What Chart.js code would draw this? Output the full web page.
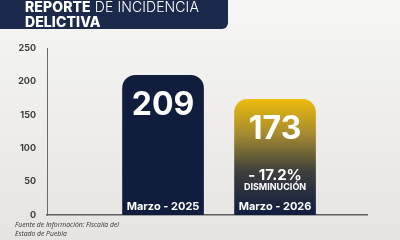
<!DOCTYPE html>
<html>
<head>
<meta charset="utf-8">
<script src="https://cdn.jsdelivr.net/npm/chart.js@4"></script>
<style>
  html, body { margin: 0; padding: 0; }
  body { width: 400px; height: 240px; overflow: hidden; position: relative;
         background: linear-gradient(180deg, #f6f6f5 0%, #eeedeb 50%, #e6e4e0 100%); font-family: Inter, sans-serif; }
  #chart { position: absolute; left: 0; top: 0; }
  .header { position: absolute; left: 0; top: 0; width: 228px; height: 29px; background: #1b2a4b;
            border-bottom-right-radius: 6px; color: #fff; font-size: 14px; line-height: 15px; }
  .header .txt { position: absolute; left: 25px; top: -1px; white-space: nowrap; letter-spacing: 0.1px; }
  .header b { font-weight: 800; }
  .header span { font-weight: 300; }
  .source { position: absolute; left: 15px; top: 221px; font-family: "Open Sans", sans-serif; font-style: italic;
            font-size: 6.8px; line-height: 8.5px; color: #333; }
</style>
</head>
<body>
<canvas id="chart" width="400" height="240"></canvas>
<div class="header"><div class="txt"><b>REPORTE</b><span> DE INCIDENCIA</span><br><b>DELICTIVA</b></div></div>
<div class="source">Fuente de Información: Fiscalía del<br>Estado de Puebla</div>
<script>
const categories = ['Marzo - 2025', 'Marzo - 2026'];
const positions = [1, 2];
const values = [209, 173];
const notes = [null, ['- 17.2%', 'DISMINUCIÓN']];
const yTicks = [0, 50, 100, 150, 200, 250];

function barFill(ctx) {
  if (ctx.type !== 'data') return '#101d3c';
  if (ctx.dataIndex === 0) return '#101d3c';
  const chart = ctx.chart;
  const y = chart.scales.y;
  if (!y || !chart.chartArea) return '#6b5e2c';
  const top = y.getPixelForValue(values[ctx.dataIndex]);
  const base = y.getPixelForValue(0);
  const g = chart.ctx.createLinearGradient(0, top, 0, base);
  g.addColorStop(0, '#ecbb0d');
  g.addColorStop(0.3, '#a48b2f');
  g.addColorStop(0.62, '#3f3f3d');
  g.addColorStop(1, '#0f1d3f');
  return g;
}

const barLabels = {
  id: 'barLabels',
  afterDatasetsDraw(chart) {
    const c = chart.ctx;
    const meta = chart.getDatasetMeta(0);
    c.save();
    c.fillStyle = '#ffffff';
    c.textAlign = 'center';
    c.textBaseline = 'middle';
    meta.data.forEach((bar, i) => {
      const x = bar.x;
      c.font = '700 32px Inter, sans-serif';
      c.fillText(String(values[i]), x, bar.y + 30);
      c.font = '700 11px Inter, sans-serif';
      c.fillText(categories[i], x, bar.base - 8);
      if (notes[i]) {
        c.font = '700 15px Inter, sans-serif';
        c.fillText(notes[i][0], x, bar.y + 76);
        c.font = '700 9px Inter, sans-serif';
        c.fillText(notes[i][1], x, bar.y + 88);
      }
    });
    c.restore();
  }
};

new Chart(document.getElementById('chart'), {
  type: 'bar',
  data: {
    datasets: [{
      data: positions.map((p, i) => ({ x: p, y: values[i] })),
      backgroundColor: barFill,
      barThickness: 81,
      borderRadius: { topLeft: 13, topRight: 13, bottomLeft: 0, bottomRight: 0 },
      borderSkipped: false
    }]
  },
  options: {
    responsive: false,
    animation: false,
    layout: { padding: { top: 48, right: 33, bottom: 25, left: 0 } },
    plugins: { legend: { display: false }, tooltip: { enabled: false } },
    scales: {
      x: {
        type: 'linear', min: -0.036, max: 2.821, offset: false,
        grid: { display: false },
        ticks: { display: false },
        border: { color: '#5e5e5e', width: 1.5 },
        afterFit: s => { s.height = 0; }
      },
      y: {
        min: 0, max: 250,
        afterBuildTicks: s => { s.ticks = yTicks.map(v => ({ value: v })); },
        grid: { display: false },
        border: { color: '#6a6a6a', width: 1 },
        ticks: { color: '#3c3c3c', padding: 3, font: { family: 'Inter', size: 9, weight: '700' } },
        afterFit: s => { s.width = 47; }
      }
    }
  },
  plugins: [barLabels]
});
</script>
</body>
</html>
